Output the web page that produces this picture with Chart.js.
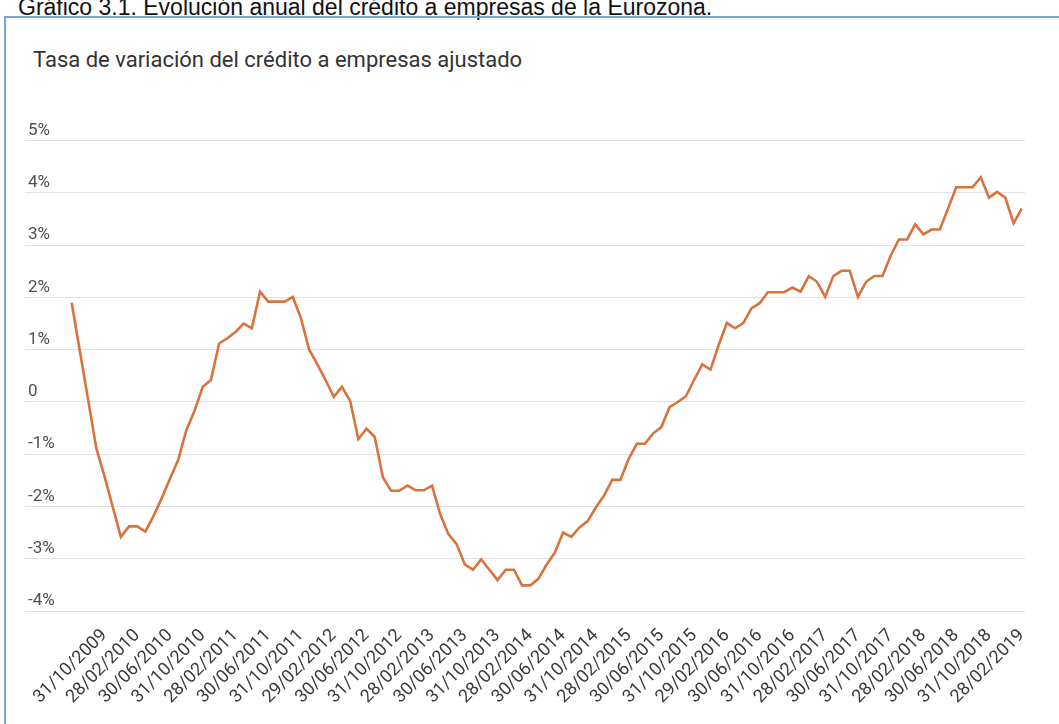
<!DOCTYPE html>
<html lang="es">
<head>
  <meta charset="UTF-8">
  <title>Evolución anual del crédito a empresas de la Eurozona</title>
  <script src="https://cdn.jsdelivr.net/npm/chart.js"></script>
  <style>
    body { margin: 0; background: #fff; width: 1059px; height: 724px; overflow: hidden; position: relative; }
    #titulo { position: absolute; left: 18px; top: -4px; font: 23px "Liberation Sans", Arial, sans-serif; line-height: 23px; color: #111; white-space: nowrap; }
    #marco { position: absolute; left: 4px; top: 16px; width: 1100px; height: 800px; border: 2px solid #7aa3da; }
    #subtitulo { position: absolute; left: 33px; top: 47px; font: 22px Roboto, sans-serif; color: #333; white-space: nowrap; }
    #grafico { position: absolute; left: 0; top: 0; }
  </style>
</head>
<body>
  <div id="titulo">Gráfico 3.1. Evolución anual del crédito a empresas de la Eurozona.</div>
  <div id="marco"></div>
  <div id="subtitulo">Tasa de variación del crédito a empresas ajustado</div>
  <canvas id="grafico" width="1059" height="724"></canvas>

  <script>
    // fin de mes, jun 2009 - feb 2019
    const fechas = [
      '30/06/2009', '31/07/2009', '31/08/2009', '30/09/2009', '31/10/2009', '30/11/2009', '31/12/2009',
      '31/01/2010', '28/02/2010', '31/03/2010', '30/04/2010', '31/05/2010', '30/06/2010', '31/07/2010', '31/08/2010', '30/09/2010', '31/10/2010', '30/11/2010', '31/12/2010',
      '31/01/2011', '28/02/2011', '31/03/2011', '30/04/2011', '31/05/2011', '30/06/2011', '31/07/2011', '31/08/2011', '30/09/2011', '31/10/2011', '30/11/2011', '31/12/2011',
      '31/01/2012', '29/02/2012', '31/03/2012', '30/04/2012', '31/05/2012', '30/06/2012', '31/07/2012', '31/08/2012', '30/09/2012', '31/10/2012', '30/11/2012', '31/12/2012',
      '31/01/2013', '28/02/2013', '31/03/2013', '30/04/2013', '31/05/2013', '30/06/2013', '31/07/2013', '31/08/2013', '30/09/2013', '31/10/2013', '30/11/2013', '31/12/2013',
      '31/01/2014', '28/02/2014', '31/03/2014', '30/04/2014', '31/05/2014', '30/06/2014', '31/07/2014', '31/08/2014', '30/09/2014', '31/10/2014', '30/11/2014', '31/12/2014',
      '31/01/2015', '28/02/2015', '31/03/2015', '30/04/2015', '31/05/2015', '30/06/2015', '31/07/2015', '31/08/2015', '30/09/2015', '31/10/2015', '30/11/2015', '31/12/2015',
      '31/01/2016', '29/02/2016', '31/03/2016', '30/04/2016', '31/05/2016', '30/06/2016', '31/07/2016', '31/08/2016', '30/09/2016', '31/10/2016', '30/11/2016', '31/12/2016',
      '31/01/2017', '28/02/2017', '31/03/2017', '30/04/2017', '31/05/2017', '30/06/2017', '31/07/2017', '31/08/2017', '30/09/2017', '31/10/2017', '30/11/2017', '31/12/2017',
      '31/01/2018', '28/02/2018', '31/03/2018', '30/04/2018', '31/05/2018', '30/06/2018', '31/07/2018', '31/08/2018', '30/09/2018', '31/10/2018', '30/11/2018', '31/12/2018',
      '31/01/2019', '28/02/2019'
    ];

    // tasa de variación (%)
    const variacion = [
      1.90, 0.97, 0.05, -0.88, -1.42, -2.00, -2.58,
      -2.38, -2.38, -2.48, -2.18, -1.84, -1.47, -1.11, -0.54, -0.17, 0.29, 0.42, 1.12,
      1.22, 1.34, 1.50, 1.41, 2.11, 1.92, 1.92, 1.92, 2.01, 1.60, 1.00, 0.72,
      0.42, 0.10, 0.29, 0.02, -0.71, -0.51, -0.67, -1.44, -1.70, -1.70, -1.60, -1.69,
      -1.69, -1.60, -2.15, -2.53, -2.72, -3.11, -3.21, -3.01, -3.21, -3.41, -3.21, -3.21,
      -3.51, -3.51, -3.38, -3.11, -2.88, -2.50, -2.58, -2.40, -2.28, -2.02, -1.79, -1.49,
      -1.49, -1.09, -0.80, -0.80, -0.60, -0.48, -0.10, 0.00, 0.11, 0.42, 0.72, 0.62,
      1.09, 1.51, 1.41, 1.51, 1.79, 1.89, 2.10, 2.10, 2.10, 2.19, 2.11, 2.41,
      2.30, 2.01, 2.41, 2.51, 2.51, 2.01, 2.30, 2.41, 2.41, 2.80, 3.11, 3.11,
      3.40, 3.21, 3.30, 3.30, 3.70, 4.11, 4.11, 4.11, 4.30, 3.91, 4.02, 3.91,
      3.42, 3.70
    ];

    // fechas que llevan etiqueta en el eje (cada 4 meses)
    const etiquetasX = [
      '31/10/2009', '28/02/2010', '30/06/2010', '31/10/2010', '28/02/2011', '30/06/2011', '31/10/2011',
      '29/02/2012', '30/06/2012', '31/10/2012', '28/02/2013', '30/06/2013', '31/10/2013', '28/02/2014',
      '30/06/2014', '31/10/2014', '28/02/2015', '30/06/2015', '31/10/2015', '29/02/2016', '30/06/2016',
      '31/10/2016', '28/02/2017', '30/06/2017', '31/10/2017', '28/02/2018', '30/06/2018', '31/10/2018',
      '28/02/2019'
    ];

    const ticksY = [5, 4, 3, 2, 1, 0, -1, -2, -3, -4];

    const puntos = variacion.map((v, i) => ({ x: i, y: v }));

    new Chart(document.getElementById('grafico'), {
      type: 'line',
      data: {
        datasets: [{
          data: puntos,
          borderColor: '#d8733d',
          borderWidth: 2.6,
          pointRadius: 0,
          tension: 0,
          fill: false
        }]
      },
      options: {
        responsive: false,
        animation: false,
        devicePixelRatio: 1,
        layout: {
          autoPadding: false,
          padding: { left: 25, right: 34, top: 140.7, bottom: 13 }
        },
        plugins: {
          legend: { display: false },
          tooltip: { enabled: false }
        },
        scales: {
          x: {
            type: 'linear',
            min: -5.7,
            max: 116.4,
            grid: { display: false },
            border: { display: false },
            afterBuildTicks: function (scale) {
              scale.ticks = etiquetasX.map(f => ({ value: fechas.indexOf(f) }));
            },
            afterFit: function (scale) { scale.height = 100; },
            ticks: {
              autoSkip: false,
              maxRotation: 45,
              minRotation: 45,
              padding: 6,
              color: '#3a3a3a',
              font: { family: 'Roboto', size: 18 },
              callback: function (value) { return fechas[value]; }
            }
          },
          y: {
            min: -4,
            max: 5,
            afterBuildTicks: function (scale) {
              scale.ticks = ticksY.map(v => ({ value: v }));
            },
            afterFit: function (scale) { scale.width = 0; },
            grid: { color: '#e2e2e2', lineWidth: 1, drawTicks: false },
            border: { display: false },
            ticks: {
              mirror: true,
              padding: 3,
              labelOffset: -10,
              color: '#505050',
              font: { family: 'Roboto', size: 17 },
              callback: function (v) { return v === 0 ? '0' : v + '%'; }
            }
          }
        }
      }
    });
  </script>
</body>
</html>
